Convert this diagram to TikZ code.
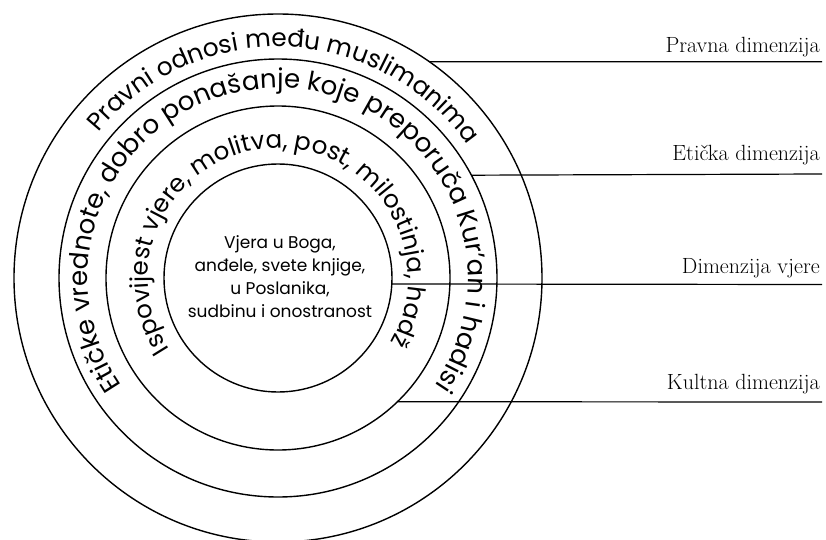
\documentclass[tikz,border=0pt]{standalone}
\usepackage{fontspec}
\usetikzlibrary{decorations.text}
\newfontfamily\ringfont{Poppins}
\newlength\twA
\newlength\twB
\newlength\twC
\begin{document}%
\settowidth\twA{\ringfont\fontsize{10}{12}\selectfont Pravni odnosi među muslimanima}%
\settowidth\twB{\ringfont\fontsize{10}{12}\selectfont Etičke vrednote, dobro ponašanje koje preporuča Kur’an i hadisi}%
\settowidth\twC{\ringfont\fontsize{10}{12}\selectfont Ispovijest vjere, molitva, post, milostinja, hadž}%
\pgfmathsetmacro\szA{10*231*rad(106)/\twA}%
\pgfmathsetmacro\szB{10*190*rad(249)/\twB}%
\pgfmathsetmacro\szC{10*130*rad(243)/\twC}%
\begin{tikzpicture}[x=1pt,y=1pt,
  ringline/.style={circle, draw, line width=1.4pt, inner sep=0pt, outer sep=0pt},
  conn/.style={line width=1.2pt},
  dimlabel/.style={anchor=base east, inner sep=0pt, font=\fontsize{22}{26}\selectfont}]
\useasboundingbox (-278,-261) rectangle (548,278);
\coordinate (c) at (0,0);
% circles
\node[ringline, minimum size=528pt] (r1) at (c) {};
\node[ringline, minimum size=438pt] (r2) at (c) {};
\node[ringline, minimum size=344pt] (r3) at (c) {};
\node[ringline, minimum size=228pt] (r4) at (c) {};
% ring texts
\path[decorate, decoration={text along path, text align=center,
  text={|\ringfont\fontsize{\szA}{\szA}\selectfont|Pravni odnosi među muslimanima}}]
  (238:231) arc[start angle=238, end angle=-62, radius=231];
\path[decorate, decoration={text along path, text align=center,
  text={|\ringfont\fontsize{\szB}{\szB}\selectfont|Etičke vrednote, dobro ponašanje koje preporuča Kur’an i hadisi}}]
  (240:190) arc[start angle=240, end angle=-60, radius=190];
\path[decorate, decoration={text along path, text align=center,
  text={|\ringfont\fontsize{\szC}{\szC}\selectfont|Ispovijest vjere, molitva, post, milostinja, hadž}}]
  (241.6:130) arc[start angle=241.6, end angle=-58.4, radius=130];
% core text
\node[align=center, inner sep=0pt, font=\ringfont\fontsize{17}{23}\selectfont] (core) at (2,1)
  {Vjera u Boga,\\anđele, svete knjige,\\u Poslanika,\\sudbinu i onostranost};
% labels
\node[dimlabel] (lp) at (542,226) {Pravna dimenzija};
\node[dimlabel] (le) at (542,118) {Etička dimenzija};
\node[dimlabel] (lv) at (542,5) {Dimenzija vjere};
\node[dimlabel] (lk) at (542,-111) {Kultna dimenzija};
\coordinate (ep) at (544,216.3);
\coordinate (ee) at (544,104);
\coordinate (ev) at (544,-6.5);
\coordinate (ek) at (544,-124);
\draw[conn] (r1.55.0) -- (ep);
\draw[conn] (r2.28.35) -- (ee);
\draw[conn] (r4.-3.3) -- (ev);
\draw[conn] (r3.-46.1) -- (ek);
\end{tikzpicture}%
\end{document}
